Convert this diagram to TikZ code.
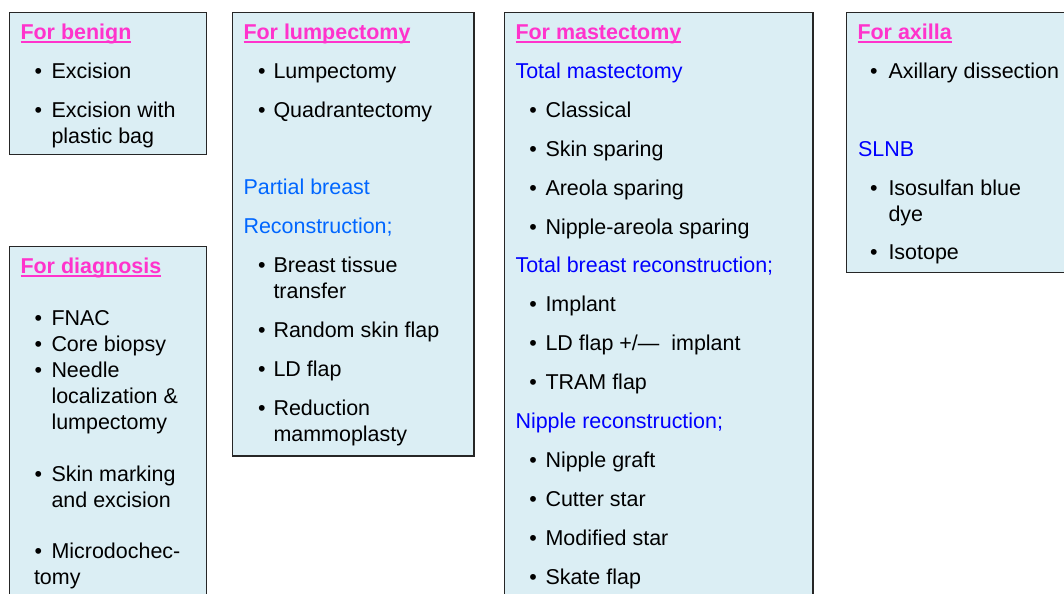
\documentclass[tikz,border=0pt]{standalone}
\usepackage{fontspec}
\setmainfont{Liberation Sans}
\usetikzlibrary{fit}
\definecolor{boxfill}{HTML}{DBEEF4}
\definecolor{boxline}{HTML}{262626}
\definecolor{titlemag}{HTML}{FF33CC}
\definecolor{subblue}{HTML}{0000FF}
\definecolor{lightblue}{HTML}{0066FF}
\tikzset{
  panel/.style={draw=boxline, fill=boxfill, line width=1.1pt, inner sep=0pt, outer sep=0pt},
  txt/.style={anchor=base west, inner sep=0pt, outer sep=0pt, font=\fontsize{16.1pt}{19.5pt}\selectfont, text=black},
  ttl/.style={txt, font=\fontsize{16.1pt}{19.5pt}\selectfont\bfseries, text=titlemag},
  sub/.style={txt, text=subblue},
  subl/.style={txt, text=lightblue},
  uline/.style={draw=titlemag, line width=1.5pt},
}
\newcommand{\bitem}[5]{%
  \node[txt] (#1b) at (#2,#4) {\textbullet};
  \node[txt] (#1) at (#3,#4) {#5};}
\newcommand{\ttitle}[4]{%
  \node[ttl] (#1) at (#2,#3) {#4};
  \draw[uline] ([yshift=-2pt]#1.base west) -- ([yshift=-2pt]#1.base east);}
\begin{document}
\begin{tikzpicture}[x=0.75pt, y=-0.75pt]
\useasboundingbox (0,0) rectangle (1064,593);
\clip (0,0) rectangle (1064,593);
% panels
\node[panel, fit={(9.5,12.3) (206.5,154.3)}] (benign) {};
\node[panel, fit={(9.5,246.7) (206.5,610)}] (diag) {};
\node[panel, fit={(232.5,12.3) (474,456)}] (lump) {};
\node[panel, fit={(504.5,12.3) (813,610)}] (mast) {};
\node[panel, fit={(846.7,12.3) (1080,272.7)}] (axil) {};
% benign
\ttitle{tben}{20.5}{39}{For benign}
\bitem{ben1}{34.5}{51.5}{78}{Excision}
\bitem{ben2}{34.5}{51.5}{117}{Excision with}
\node[txt] (ben2b2) at (51.5,143) {plastic bag};
% diagnosis
\ttitle{tdia}{20.5}{273}{For diagnosis}
\bitem{dia1}{34.5}{51.5}{325}{FNAC}
\bitem{dia2}{34.5}{51.5}{351}{Core biopsy}
\bitem{dia3}{34.5}{51.5}{377}{Needle}
\node[txt] (dia3l2) at (51.5,403) {localization \&};
\node[txt] (dia3l3) at (51.5,429) {lumpectomy};
\bitem{dia4}{34.5}{51.5}{481}{Skin marking}
\node[txt] (dia4l2) at (51.5,507) {and excision};
\bitem{dia5}{34.5}{51.5}{558}{Microdochec-}
\node[txt] (dia5l2) at (34,584) {tomy};
% lumpectomy
\ttitle{tlum}{243.5}{39}{For lumpectomy}
\bitem{lum1}{258}{273.5}{78}{Lumpectomy}
\bitem{lum2}{258}{273.5}{117}{Quadrantectomy}
\node[subl] (lums1) at (243.5,194) {Partial breast};
\node[subl] (lums2) at (243.5,233) {Reconstruction;};
\bitem{lum3}{258}{273.5}{272}{Breast tissue}
\node[txt] (lum3l2) at (273.5,298) {transfer};
\bitem{lum4}{258}{273.5}{337}{Random skin flap}
\bitem{lum5}{258}{273.5}{376}{LD flap}
\bitem{lum6}{258}{273.5}{415}{Reduction}
\node[txt] (lum6l2) at (273.5,441) {mammoplasty};
% mastectomy
\ttitle{tmas}{515.5}{39}{For mastectomy}
\node[sub] (mass1) at (515.5,78) {Total mastectomy};
\bitem{mas1}{529.4}{545.5}{117}{Classical}
\bitem{mas2}{529.4}{545.5}{156}{Skin sparing}
\bitem{mas3}{529.4}{545.5}{195}{Areola sparing}
\bitem{mas4}{529.4}{545.5}{234}{Nipple-areola sparing}
\node[sub] (mass2) at (515.5,272.5) {Total breast reconstruction;};
\bitem{mas5}{529.4}{545.5}{311}{Implant}
\bitem{mas6}{529.4}{545.5}{350}{LD flap +/— \ implant}
\bitem{mas7}{529.4}{545.5}{389}{TRAM flap}
\node[sub] (mass3) at (515.5,428) {Nipple reconstruction;};
\bitem{mas8}{529.4}{545.5}{467}{Nipple graft}
\bitem{mas9}{529.4}{545.5}{506}{Cutter star}
\bitem{mas10}{529.4}{545.5}{545}{Modified star}
\bitem{mas11}{529.4}{545.5}{584}{Skate flap}
% axilla
\ttitle{tax}{857.5}{39}{For axilla}
\bitem{ax1}{870}{888.5}{78}{Axillary dissection}
\node[sub] (axs1) at (858,156) {SLNB};
\bitem{ax2}{870}{888.5}{195}{Isosulfan blue}
\node[txt] (ax2l2) at (888.5,221) {dye};
\bitem{ax3}{870}{888.5}{259}{Isotope}
\end{tikzpicture}
\end{document}
